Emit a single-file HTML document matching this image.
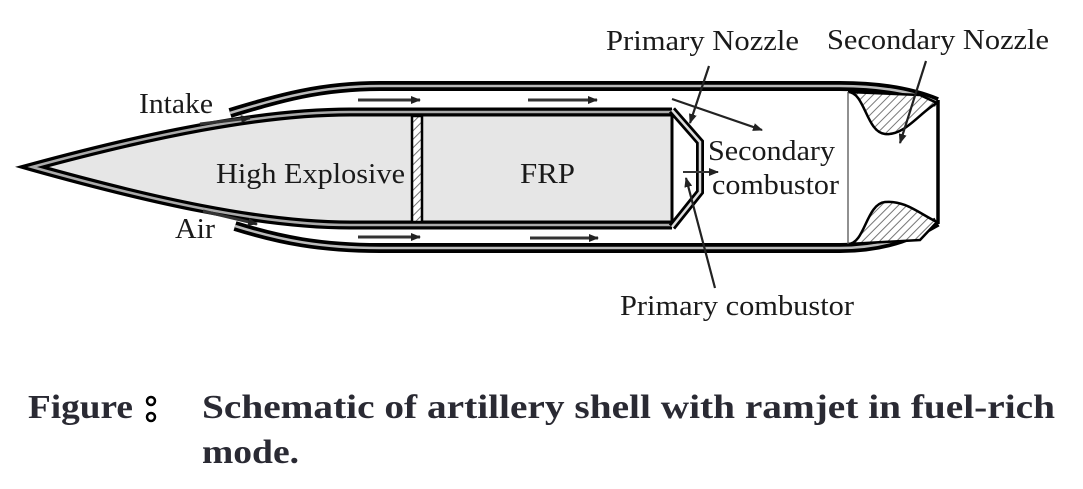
<!DOCTYPE html>
<html><head><style>
html,body{margin:0;padding:0;background:#fff;width:1083px;height:489px;overflow:hidden}
svg{position:absolute;left:0;top:0}
.t{font-family:"Liberation Serif",serif;font-size:28px;fill:#1a1a1a}
.c{font-family:"Liberation Serif",serif;font-size:34px;font-weight:bold;fill:#2a2a33}
</style></head><body>
<svg width="1083" height="489" viewBox="0 0 1083 489">
<defs>
<marker id="a" markerWidth="10" markerHeight="8" refX="9" refY="4" orient="auto" markerUnits="userSpaceOnUse"><path d="M0,0 L10,4 L0,8 Z" fill="#222"/></marker>
<pattern id="h" width="6" height="6" patternUnits="userSpaceOnUse" patternTransform="rotate(45)"><rect width="6" height="6" fill="#fff"/><line x1="0" y1="0" x2="0" y2="6" stroke="#777" stroke-width="2"/></pattern>
</defs>
<g fill="none" stroke-linejoin="round">
<path d="M230,113 C280,98 320,86 380,86 L840,86 C890,86 920,95 937,102" stroke="#000" stroke-width="10"/>
<path d="M230,113 C280,98 320,86 380,86 L840,86 C890,86 920,95 937,102" stroke="#bbb" stroke-width="2.5"/>
<path d="M235,226 C280,240 320,248 380,248 L840,248 C890,248 920,232 937,222" stroke="#000" stroke-width="10"/>
<path d="M235,226 C280,240 320,248 380,248 L840,248 C890,248 920,232 937,222" stroke="#bbb" stroke-width="2.5"/>
</g>
<path d="M848,92 C865,92 866,132 885,134 C905,136 920,112 937,103 L920,95 Z" fill="url(#h)" stroke="#000" stroke-width="2.5"/>
<path d="M848,244 C865,244 866,204 885,202 C905,200 920,214 937,222 L920,240 Z" fill="url(#h)" stroke="#000" stroke-width="2.5"/>
<line x1="848" y1="92" x2="848" y2="244" stroke="#555" stroke-width="1.3"/>
<line x1="938" y1="100" x2="938" y2="224" stroke="#000" stroke-width="3.5"/>
<!-- body -->
<path d="M32,167 C150,135 260,112 350,112 L672,112 L672,225 L350,225 C260,225 150,200 32,167 Z" fill="#e6e6e6"/>
<path d="M672,112 L350,112 C260,112 150,135 32,167 C150,200 260,225 350,225 L672,225" fill="none" stroke="#000" stroke-width="9" stroke-linejoin="miter"/>
<path d="M672,112 L350,112 C260,112 150,135 32,167 C150,200 260,225 350,225 L672,225" fill="none" stroke="#aaa" stroke-width="2.5"/>
<line x1="672" y1="116" x2="672" y2="221" stroke="#000" stroke-width="3"/>
<!-- primary nozzle -->
<path d="M672,110 L700,142 L700,192 L672,227" fill="none" stroke="#000" stroke-width="8" stroke-linejoin="miter"/>
<path d="M672,110 L700,142 L700,192 L672,227" fill="none" stroke="#ddd" stroke-width="2.5"/>
<rect x="412" y="116" width="10" height="106" fill="url(#h)" stroke="#000" stroke-width="2.5"/>
<g stroke="#333" stroke-width="3" marker-end="url(#a)">
<line x1="358" y1="100" x2="420" y2="100"/><line x1="528" y1="100" x2="597" y2="100"/>
<line x1="358" y1="237" x2="420" y2="237"/><line x1="530" y1="238" x2="598" y2="238"/>
<line x1="200" y1="124" x2="250" y2="118"/><line x1="203" y1="211" x2="257" y2="224"/>
<line x1="683" y1="172" x2="718" y2="172" stroke-width="2"/>
</g>
<g stroke="#222" stroke-width="2.2" marker-end="url(#a)">
<line x1="672" y1="99" x2="762" y2="130"/>
<line x1="709" y1="66" x2="690" y2="123"/>
<line x1="926" y1="61" x2="900" y2="143"/>
<line x1="715" y1="288" x2="686" y2="178"/>
</g>
<text class="t" x="139" y="113" textLength="74" lengthAdjust="spacingAndGlyphs">Intake</text>
<text class="t" x="175" y="238" textLength="40" lengthAdjust="spacingAndGlyphs">Air</text>
<text class="t" x="216" y="183" textLength="189" lengthAdjust="spacingAndGlyphs">High Explosive</text>
<text class="t" x="520" y="183" textLength="55" lengthAdjust="spacingAndGlyphs">FRP</text>
<text class="t" x="708" y="160" textLength="127" lengthAdjust="spacingAndGlyphs">Secondary</text>
<text class="t" x="712" y="194" textLength="127" lengthAdjust="spacingAndGlyphs">combustor</text>
<text class="t" x="606" y="50" textLength="193" lengthAdjust="spacingAndGlyphs">Primary Nozzle</text>
<text class="t" x="827" y="49" textLength="222" lengthAdjust="spacingAndGlyphs">Secondary Nozzle</text>
<text class="t" x="620" y="315" textLength="234" lengthAdjust="spacingAndGlyphs">Primary combustor</text>
<text class="c" x="28" y="418" textLength="105" lengthAdjust="spacingAndGlyphs">Figure</text>
<circle cx="151" cy="401" r="4" fill="none" stroke="#000" stroke-width="2.5"/>
<circle cx="151" cy="417" r="4" fill="none" stroke="#000" stroke-width="2.5"/>
<text class="c" x="202" y="418" textLength="853" lengthAdjust="spacingAndGlyphs">Schematic of artillery shell with ramjet in fuel-rich</text>
<text class="c" x="202" y="463" textLength="97" lengthAdjust="spacingAndGlyphs">mode.</text>
</svg>
</body></html>
